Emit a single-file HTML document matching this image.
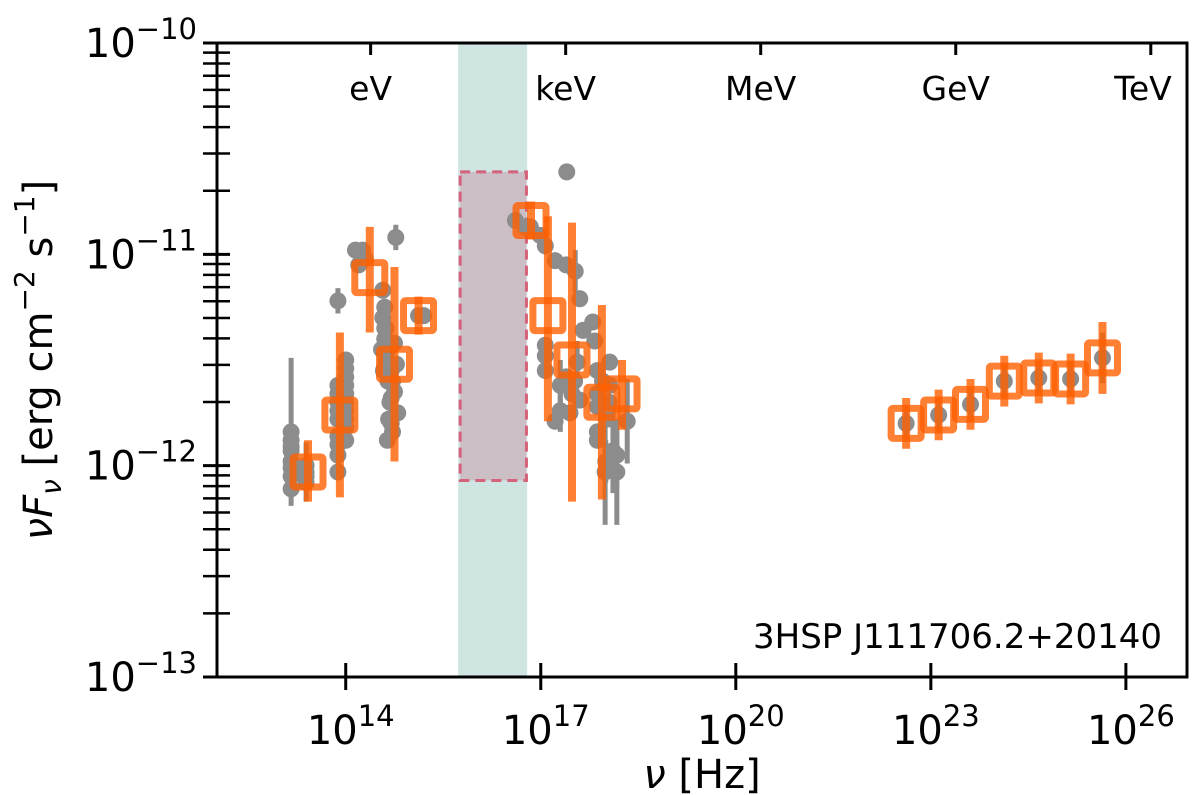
<!DOCTYPE html>
<html><head><meta charset="utf-8"><style>
html,body{margin:0;padding:0;background:#fff;}
svg{display:block;font-family:"DejaVu Sans","Liberation Sans",sans-serif;}
</style></head><body>
<svg id="chart" width="1200" height="795" viewBox="0 0 1200 795">
<g id="bands"></g><g id="marks"></g><g id="axes"></g>
</svg>
<script>
// log10 nu, log10 nuFnu
const grayX=[13.16,13.16,13.16,13.16,13.16,13.16,13.39,13.39,13.39,13.88,13.88,13.88,13.88,13.88,13.88,14.0,14.0,14.0,14.0,14.0,14.0,13.88,14.15,14.26,14.3,14.2,14.57,14.57,14.6,14.62,14.65,14.68,14.7,14.72,14.55,14.77,15.12,15.2,
13.16,13.16,13.39,13.88,13.88,13.88,14.0,14.0,14.0,14.0,14.6,14.62,14.65,14.7,14.75,14.8,14.58,14.66,14.72,14.75,14.78,14.7,14.64,14.6,
16.61,16.76,16.84,16.99,17.07,17.22,17.39,17.53,17.60,17.65,17.80,17.40,17.83,17.07,17.07,17.07,17.39,17.56,17.48,17.60,17.87,17.87,17.87,17.87,17.87,18.06,18.06,18.02,18.11,18.17,17.22,17.99,18.17,18.33,
17.30,17.30,17.45,17.52,17.95,18.0,18.05,
22.62,23.12,23.61,24.13,24.66,25.15,25.64];
const grayY=[-11.84,-11.88,-11.93,-11.98,-12.05,-12.11,-12.03,-12.0,-12.08,-11.62,-11.7,-11.78,-11.86,-11.95,-12.03,-11.5,-11.58,-11.66,-11.74,-11.82,-11.88,-11.22,-10.98,-10.98,-11.02,-11.05,-11.17,-11.3,-11.4,-11.5,-11.6,-11.7,-11.8,-11.84,-11.45,-10.92,-11.29,-11.29,
-11.91,-12.01,-12.05,-11.66,-11.74,-11.9,-11.54,-11.62,-11.7,-11.78,-11.25,-11.35,-11.45,-11.55,-11.65,-11.75,-11.55,-11.78,-11.6,-11.42,-11.52,-11.68,-11.88,-11.35,
-10.84,-10.87,-10.87,-10.91,-10.96,-11.03,-11.05,-11.08,-11.21,-11.36,-11.32,-10.61,-11.41,-11.43,-11.48,-11.55,-11.58,-11.51,-11.66,-11.69,-11.55,-11.66,-11.72,-11.84,-11.88,-11.51,-11.62,-11.78,-11.93,-11.95,-11.79,-12.03,-12.03,-11.79,
-11.62,-11.74,-11.75,-11.60,-11.6,-11.98,-11.7,
-11.80,-11.76,-11.71,-11.60,-11.585,-11.59,-11.49];
const grayErr=[0.35,0,0,0,0,0,0.14,0,0,0,0,0,0,0,0,0,0,0,0,0,0,0.06,0,0,0,0,0,0,0,0,0,0,0,0,0,0.06,0,0,
0,0,0,0,0,0,0,0,0,0,0,0,0,0,0,0,0,0,0,0,0,0,0,0,
0,0,0,0,0,0,0,0.1,0,0,0,0,0,0,0,0,0,0.1,0,0,0,0,0,0,0,0,0,0,0.2,0.15,0,0.25,0.25,0.2,
0.12,0.1,0,0,0,0.1,0,
0.08,0.08,0.08,0.08,0.08,0.08,0.12];
const binX=[13.42,13.91,14.37,14.75,15.12,16.85,17.11,17.48,17.94,18.25,22.62,23.12,23.61,24.13,24.66,25.15,25.64];
const binY=[-12.03,-11.76,-11.11,-11.52,-11.29,-10.84,-11.29,-11.50,-11.70,-11.66,-11.80,-11.76,-11.71,-11.60,-11.585,-11.59,-11.49];
const binErrHi=[0.15,0.39,0.24,0.46,0.09,0.09,0.47,0.65,0.46,0.16,0.12,0.12,0.12,0.12,0.12,0.12,0.17];
const binErrLo=[0.14,0.39,0.26,0.46,0.09,0.09,0.50,0.67,0.46,0.17,0.12,0.12,0.12,0.12,0.12,0.12,0.17];
const xTicks=[14,17,20,23,26];
const yTicks=[-13,-12,-11,-10];
const energyLabels=["eV","keV","MeV","GeV","TeV"];
const energyLog=[14.383,17.383,20.383,23.383,26.383];
const bandX=[15.73,16.79];
const boxX=[15.76,16.78], boxY=[-12.07,-10.61];

const L=217,R=1187,T=43,B=677;
const X0=12.02,X1=26.94,Y0=-13,Y1=-10;
const sx=v=>L+(v-X0)/(X1-X0)*(R-L);
const sy=v=>B-(v-Y0)/(Y1-Y0)*(B-T);
const NS="http://www.w3.org/2000/svg";
function mk(tag,attrs,parent,txt){const e=document.createElementNS(NS,tag);for(const k in attrs)e.setAttribute(k,attrs[k]);if(txt!==undefined)e.textContent=txt;document.getElementById(parent).appendChild(e);return e;}

let e=mk('rect',{x:sx(bandX[0]),y:T,width:sx(bandX[1])-sx(bandX[0]),height:B-T,fill:'#cfe5e2'},'bands');


e=mk('rect',{x:sx(boxX[0]),y:sy(boxY[1]),width:sx(boxX[1])-sx(boxX[0]),height:sy(boxY[0])-sy(boxY[1]),fill:'#cbbec5',stroke:'#d4627c','stroke-width':3,'stroke-dasharray':'10,6'},'bands');



for(let i=0;i<grayX.length;i++){
  if(grayErr[i]>0){e=mk('line',{x1:sx(grayX[i]),x2:sx(grayX[i]),y1:sy(grayY[i]+grayErr[i]),y2:sy(grayY[i]-grayErr[i]),stroke:'#8c8c8c','stroke-width':5},'marks');
  
  }
  e=mk('circle',{cx:sx(grayX[i]),cy:sy(grayY[i]),r:8.5,fill:'#8c8c8c'},'marks');
  
  
}
for(let i=0;i<binX.length;i++){
  const cx=sx(binX[i]),cy=sy(binY[i]);
  e=mk('line',{x1:cx,x2:cx,y1:sy(binY[i]+binErrHi[i]),y2:sy(binY[i]-binErrLo[i]),stroke:'#ff5f00','stroke-opacity':0.8,'stroke-width':8},'marks');
  
  
  e=mk('rect',{x:cx-15,y:cy-15,width:30,height:30,rx:2,fill:'none',stroke:'#ff5f00','stroke-opacity':0.8,'stroke-width':7},'marks');
  
  
}
// axes
e=mk('rect',{x:L,y:T,width:R-L,height:B-T,fill:'none',stroke:'#000','stroke-width':3},'axes');


xTicks.forEach(v=>{
  const x=sx(v);
  e=mk('line',{x1:x,x2:x,y1:B-14,y2:B+13,stroke:'#000','stroke-width':3},'axes');
  
  
  const t=mk('text',{x:x+5,y:744,'font-size':40,'text-anchor':'middle'},'axes');
  
  
  t.innerHTML='10<tspan dy="-18" font-size="29">'+v+'</tspan>';
});
yTicks.forEach(v=>{
  const y=sy(v);
  e=mk('line',{x1:L-14,x2:L+13,y1:y,y2:y,stroke:'#000','stroke-width':3},'axes');
  
  
  const t=mk('text',{x:197,y:y+14,'font-size':40,'text-anchor':'end'},'axes');
  
  
  t.innerHTML='10<tspan dy="-18" font-size="29">\u2212'+(-v)+'</tspan>';
  if(v<-10){for(let m=2;m<=9;m++){const ym=sy(v+Math.log10(m));
    e=mk('line',{x1:L-14,x2:L+13,y1:ym,y2:ym,stroke:'#000','stroke-width':2.5},'axes');
    
    }}
});
energyLabels.forEach((s,i)=>{
  const x=sx(energyLog[i]);
  e=mk('line',{x1:x,x2:x,y1:T,y2:T+12,stroke:'#000','stroke-width':3},'axes');
  
  
  e=mk('text',{x:Math.min(x,1143),y:100,'font-size':33,'text-anchor':'middle'},'axes',s);
  
  
});
e=mk('text',{x:1162,y:648,'font-size':34,'text-anchor':'end'},'axes','3HSP J111706.2+20140');


e=mk('text',{x:702,y:788,'font-size':40,'text-anchor':'middle'},'axes');


e.innerHTML='<tspan font-style="italic">\u03bd</tspan> [Hz]';
e=mk('text',{x:0,y:0,'font-size':40,'text-anchor':'middle',transform:'translate(52,360) rotate(-90)'},'axes');


e.innerHTML='<tspan font-style="italic">\u03bdF</tspan><tspan font-style="italic" font-size="28" dy="9">\u03bd</tspan><tspan dy="-9"> [erg cm</tspan><tspan font-size="28" dy="-18">\u22122</tspan><tspan dy="18"> s</tspan><tspan font-size="28" dy="-18">\u22121</tspan><tspan dy="18">]</tspan>';
</script>
</body></html>
